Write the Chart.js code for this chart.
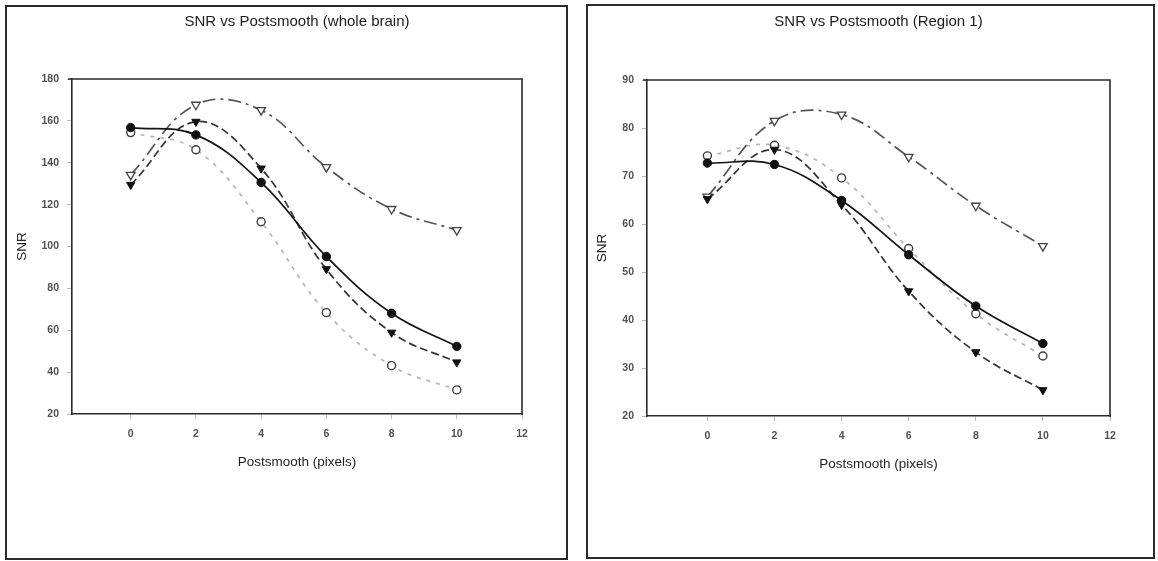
<!DOCTYPE html>
<html>
<head>
<meta charset="utf-8">
<title>SNR vs Postsmooth</title>
<script src="https://cdn.jsdelivr.net/npm/chart.js@4.4.1/dist/chart.umd.min.js"></script>
<style>
  html, body { margin: 0; padding: 0; background: #fff; }
  body { width: 1158px; height: 561px; position: relative; overflow: hidden; }
  .panel { position: absolute; border: 2px solid #2b2b2b; box-sizing: border-box; background: #fff; }
  #wholePanel  { left: 5px;   top: 5px; width: 563px; height: 555px; }
  #regionPanel { left: 586px; top: 4px; width: 569px; height: 555px; }
  canvas { display: block; }
</style>
</head>
<body>
<div class="panel" id="wholePanel"><canvas id="wholeChart" width="559" height="551" style="width:559px;height:551px"></canvas></div>
<div class="panel" id="regionPanel"><canvas id="regionChart" width="565" height="551" style="width:565px;height:551px"></canvas></div>

<script>
// Data
var xValues = [0, 2, 4, 6, 8, 10];
var xTicks  = [0, 2, 4, 6, 8, 10, 12];

// whole brain
var wholeFilledCircle = [156.8, 153.3, 130.6, 95.2, 68.1, 52.3];
var wholeFilledTri    = [129.5, 159.6, 137.3, 89.2, 58.9, 44.7];
var wholeOpenCircle   = [154.4, 146.2, 111.8, 68.4, 43.1, 31.5];
var wholeOpenTri      = [134.2, 167.7, 165.1, 137.9, 117.9, 107.8];

// region 1
var regionFilledCircle = [72.7, 72.4, 64.9, 53.6, 42.9, 35.1];
var regionFilledTri    = [65.2, 75.5, 64.0, 46.0, 33.3, 25.4];
var regionOpenCircle   = [74.2, 76.4, 69.6, 54.9, 41.3, 32.5];
var regionOpenTri      = [65.7, 81.5, 82.8, 74.0, 63.8, 55.4];

var fontFamily = "'Liberation Sans', Arial, sans-serif";

function toPoints(values) {
  return values.map(function(v, i){ return { x: xValues[i], y: v }; });
}

function buildDatasets(filledCircle, filledTri, openCircle, openTri) {
  return [
    {
      label: 'filled circle',
      data: toPoints(filledCircle),
      borderColor: '#141414',
      borderWidth: 1.7,
      pointStyle: 'circle',
      pointRadius: 4.2,
      pointBackgroundColor: '#111',
      pointBorderColor: '#111',
      pointBorderWidth: 1
    },
    {
      label: 'filled triangle',
      data: toPoints(filledTri),
      borderColor: '#333',
      borderWidth: 1.7,
      borderDash: [8, 4],
      pointStyle: 'triangle',
      pointRotation: 180,
      pointRadius: 4.8,
      pointBackgroundColor: '#111',
      pointBorderColor: '#111',
      pointBorderWidth: 1
    },
    {
      label: 'open circle',
      data: toPoints(openCircle),
      borderColor: '#b4b4b4',
      borderWidth: 1.7,
      borderDash: [4, 6],
      pointStyle: 'circle',
      pointRadius: 4,
      pointBackgroundColor: '#fff',
      pointBorderColor: '#3c3c3c',
      pointBorderWidth: 1.4
    },
    {
      label: 'open triangle',
      data: toPoints(openTri),
      borderColor: '#555',
      borderWidth: 1.7,
      borderDash: [13, 5, 3, 5],
      pointStyle: 'triangle',
      pointRotation: 180,
      pointRadius: 5,
      pointBackgroundColor: '#fff',
      pointBorderColor: '#444',
      pointBorderWidth: 1.3
    }
  ];
}

// top and right edge of the plot box
var plotFrame = {
  id: 'plotFrame',
  afterDatasetsDraw: function(chart) {
    var a = chart.chartArea, ctx = chart.ctx;
    ctx.save();
    ctx.strokeStyle = '#2b2b2b';
    ctx.lineWidth = 1.6;
    ctx.beginPath();
    ctx.moveTo(a.left - 4, a.top);
    ctx.lineTo(a.right, a.top);
    ctx.lineTo(a.right, a.bottom + 1);
    ctx.stroke();
    ctx.restore();
  }
};

function makeChart(canvasId, title, datasets, yMin, yMax, yStep, box) {
  return new Chart(document.getElementById(canvasId), {
    type: 'line',
    data: { datasets: datasets },
    plugins: [plotFrame],
    options: {
      responsive: false,
      animation: false,
      events: [],
      layout: { padding: { left: box.padLeft, right: box.padRight, top: 0, bottom: box.padBottom } },
      elements: { line: { tension: 0.4, fill: false } },
      plugins: {
        legend: { display: false },
        tooltip: { enabled: false },
        title: {
          display: true,
          text: title,
          fullSize: false,
          color: '#1c1c1c',
          font: { family: fontFamily, size: 15, weight: 'normal' },
          padding: { top: box.titleTop, bottom: box.titleBottom }
        }
      },
      scales: {
        x: {
          type: 'linear',
          min: -1.8, max: 12,
          afterBuildTicks: function(s){ s.ticks = xTicks.map(function(v){ return { value: v }; }); },
          afterFit: function(s){ s.height = box.xHeight; },
          grid: { drawOnChartArea: false, drawTicks: true, tickLength: 5, color: '#bdbdbd' },
          border: { color: '#2b2b2b', width: 1.6 },
          ticks: { color: '#505050', padding: 9, font: { family: fontFamily, size: 10.5, weight: 'bold' } },
          title: { display: true, text: 'Postsmooth (pixels)', color: '#222', padding: 0,
                   font: { family: fontFamily, size: 13.5 } }
        },
        y: {
          min: yMin, max: yMax,
          afterFit: function(s){ s.width = box.yWidth; },
          grid: { drawOnChartArea: false, drawTicks: true, tickLength: 5, color: '#bdbdbd' },
          border: { color: '#2b2b2b', width: 1.6 },
          ticks: { stepSize: yStep, color: '#505050', padding: 8, font: { family: fontFamily, size: 10.5, weight: 'bold' } },
          title: { display: true, text: 'SNR', color: '#222', padding: 0,
                   font: { family: fontFamily, size: 13.5 } }
        }
      }
    }
  });
}

// ── Whole brain ─────────────────────────────
makeChart('wholeChart', 'SNR vs Postsmooth (whole brain)',
  buildDatasets(wholeFilledCircle, wholeFilledTri, wholeOpenCircle, wholeOpenTri),
  20, 180, 20,
  { padLeft: 7, padRight: 44, padBottom: 87.9, xHeight: 56.1, yWidth: 58, titleTop: 6, titleBottom: 48 });

// ── Region 1 ────────────────────────────────
makeChart('regionChart', 'SNR vs Postsmooth (Region 1)',
  buildDatasets(regionFilledCircle, regionFilledTri, regionOpenCircle, regionOpenTri),
  20, 90, 10,
  { padLeft: 6, padRight: 43, padBottom: 84.9, xHeight: 56.1, yWidth: 53, titleTop: 7, titleBottom: 49 });
</script>
</body>
</html>
